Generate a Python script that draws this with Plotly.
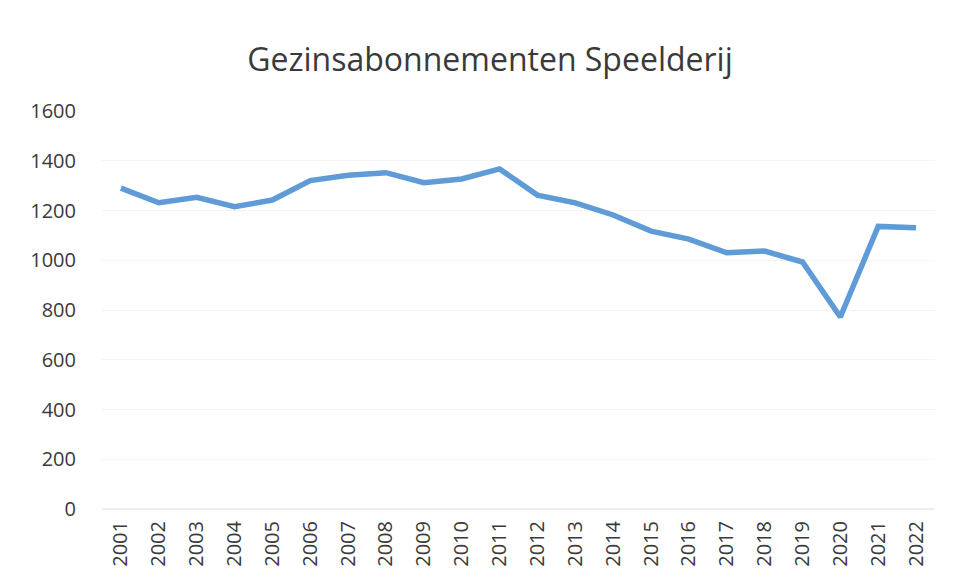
import plotly.graph_objects as go

years = [str(y) for y in range(2001, 2023)]
subscriptions = [1290, 1231, 1253, 1215, 1242, 1320, 1342, 1352, 1312, 1327, 1367,
                 1262, 1231, 1182, 1117, 1085, 1030, 1037, 993, 772, 1136, 1131]
y_ticks = [0, 200, 400, 600, 800, 1000, 1200, 1400, 1600]

fig = go.Figure()
fig.add_trace(go.Scatter(
    x=years, y=subscriptions, mode="lines",
    line=dict(color="#5f9bd6", width=5.5),
    hoverinfo="x+y",
))

fig.update_layout(
    width=954, height=577,
    paper_bgcolor="white", plot_bgcolor="white",
    margin=dict(l=94, r=27, t=103, b=76),
    title=dict(text="Gezinsabonnementen Speelderij", x=482 / 954, xanchor="center",
               y=1 - 52 / 577, yanchor="middle",
               font=dict(family="Open Sans, sans-serif", size=32, color="#3a3a3a")),
    showlegend=False,
    font=dict(family="Open Sans, sans-serif", color="#3a3a3a"),
)
fig.update_xaxes(
    type="category", range=[-0.5, len(years) - 0.5], tickangle=-90,
    showgrid=False, showline=False,
    tickfont=dict(size=20, color="#3a3a3a"), ticks="", ticklabelstandoff=7,
)
fig.update_yaxes(
    range=[0, 1600], tickvals=y_ticks, showgrid=True, gridcolor="#f4f4f4",
    zeroline=True, zerolinecolor="#eeeeee", showline=False, ticks="",
    tickfont=dict(size=20, color="#3a3a3a"), ticklabelstandoff=25,
)

fig.write_html("out.html")
